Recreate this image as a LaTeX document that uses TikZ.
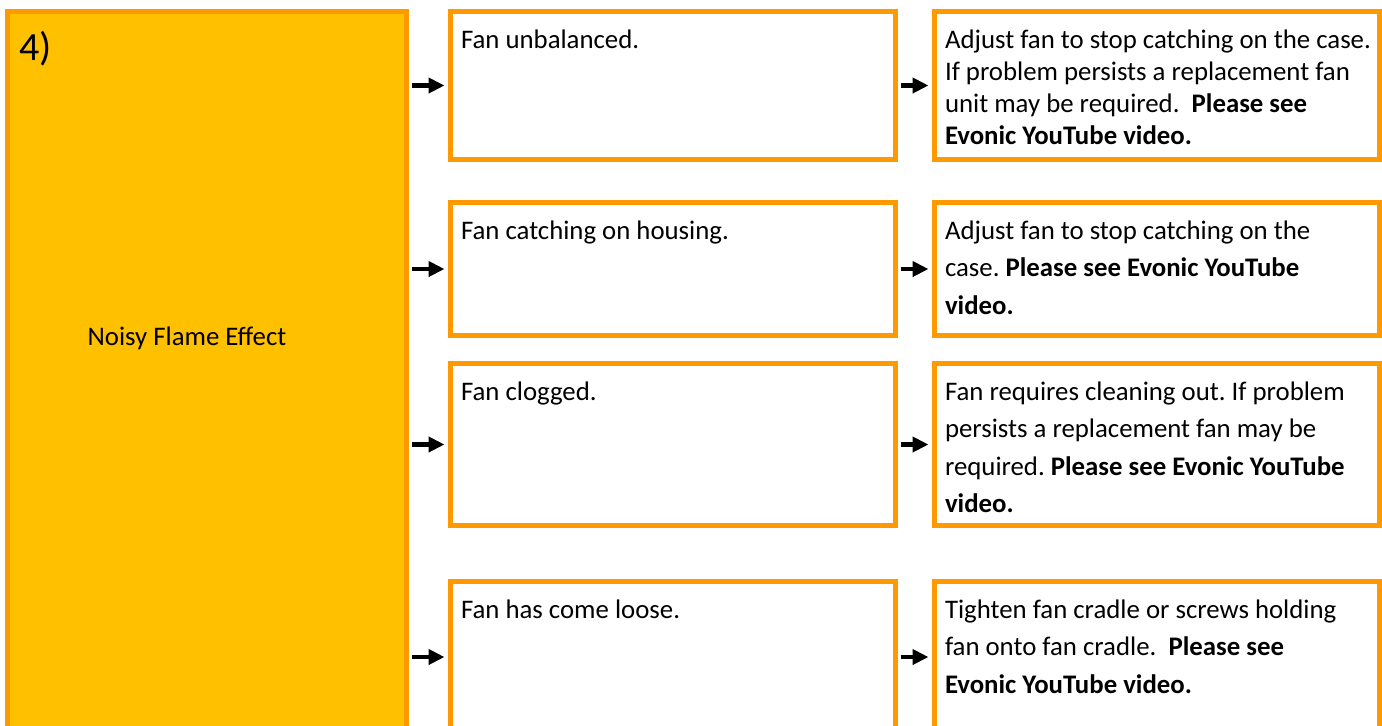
\documentclass[tikz,border=0pt]{standalone}
\usepackage{fontspec}
\setmainfont{Carlito}
\usepackage{xcolor}
\usepackage{tikz}
\usetikzlibrary{arrows.meta,positioning}
\frenchspacing
\definecolor{flameorange}{HTML}{FF9900}
\definecolor{flamefill}{HTML}{FFC000}
\newcommand{\celltext}[3]{\hbox to 212pt{\vbox to #1{\baselineskip=#2\relax\let\\\cr\halign{##\hfil\cr\rule{0pt}{13pt}#3\cr}\vfil}\hss}}
\tikzstyle{problem} = [rectangle, draw=flameorange, fill=flamefill, line width=2.5pt, outer sep=0pt, inner sep=0pt, minimum width=199.5pt, minimum height=374.25pt, anchor=north west]
\tikzstyle{panel} = [rectangle, draw=flameorange, fill=white, line width=2.5pt, outer sep=0pt, inner sep=5.25pt, minimum width=222.5pt, font=\fontsize{13.4}{16}\selectfont]
\tikzstyle{arrow} = [-{Triangle[length=8pt,width=7.5pt]}, line width=2.25pt, shorten <=2.5pt, shorten >=3pt]
\begin{document}
\begin{tikzpicture}[x=0.5pt, y=-0.5pt]
\useasboundingbox (0,0) rectangle (1382,725);
\clip (0,0) rectangle (1382,725);
\node[problem] (problem) at (7.5,11.5) {};
\node[anchor=base west, inner sep=0pt, font=\fontsize{20}{24}\selectfont] (number) at (19,60) {4)};
\node[anchor=base, inner sep=0pt, font=\fontsize{13.4}{16}\selectfont] (symptom) at (187,345) {Noisy Flame Effect};

\node[panel, anchor=north west, minimum height=74pt] (unbalanced) at (450.5,11.5) {\celltext{63.5pt}{18.75pt}{Fan unbalanced.}};
\node[panel, right=19.5pt of unbalanced, minimum height=74pt] (adjustcase) {\celltext{63.5pt}{16pt}{Adjust fan to stop catching on the case.\\If problem persists a replacement fan\\unit may be required.\ \ \textbf{Please see}\\\textbf{Evonic YouTube video.}}};
\node[panel, below=21.5pt of unbalanced, minimum height=66.5pt] (housing) {\celltext{56pt}{18.75pt}{Fan catching on housing.}};
\node[panel, right=19.5pt of housing, minimum height=66.5pt] (adjusthousing) {\celltext{56pt}{18.75pt}{Adjust fan to stop catching on the\\case. \textbf{Please see Evonic YouTube}\\\textbf{video.}}};
\node[panel, below=14pt of housing, minimum height=81pt] (clogged) {\celltext{70.5pt}{18.75pt}{Fan clogged.}};
\node[panel, right=19.5pt of clogged, minimum height=81pt] (cleaning) {\celltext{70.5pt}{18.75pt}{Fan requires cleaning out. If problem\\persists a replacement fan may be\\required. \textbf{Please see Evonic YouTube}\\\textbf{video.}}};
\node[panel, below=28pt of clogged, minimum height=75.5pt] (loose) {\celltext{65pt}{18.75pt}{Fan has come loose.}};
\node[panel, right=19.5pt of loose, minimum height=75.5pt] (tighten) {\celltext{65pt}{18.75pt}{Tighten fan cradle or screws holding\\fan onto fan cradle.\ \ \textbf{Please see}\\\textbf{Evonic YouTube video.}}};

\draw[arrow] (problem.east |- unbalanced.west) -- (unbalanced.west);
\draw[arrow] (problem.east |- housing.west) -- (housing.west);
\draw[arrow] (problem.east |- clogged.west) -- (clogged.west);
\draw[arrow] (problem.east |- loose.west) -- (loose.west);
\draw[arrow] (unbalanced.east) -- (adjustcase.west);
\draw[arrow] (housing.east) -- (adjusthousing.west);
\draw[arrow] (clogged.east) -- (cleaning.west);
\draw[arrow] (loose.east) -- (tighten.west);
\end{tikzpicture}
\end{document}
